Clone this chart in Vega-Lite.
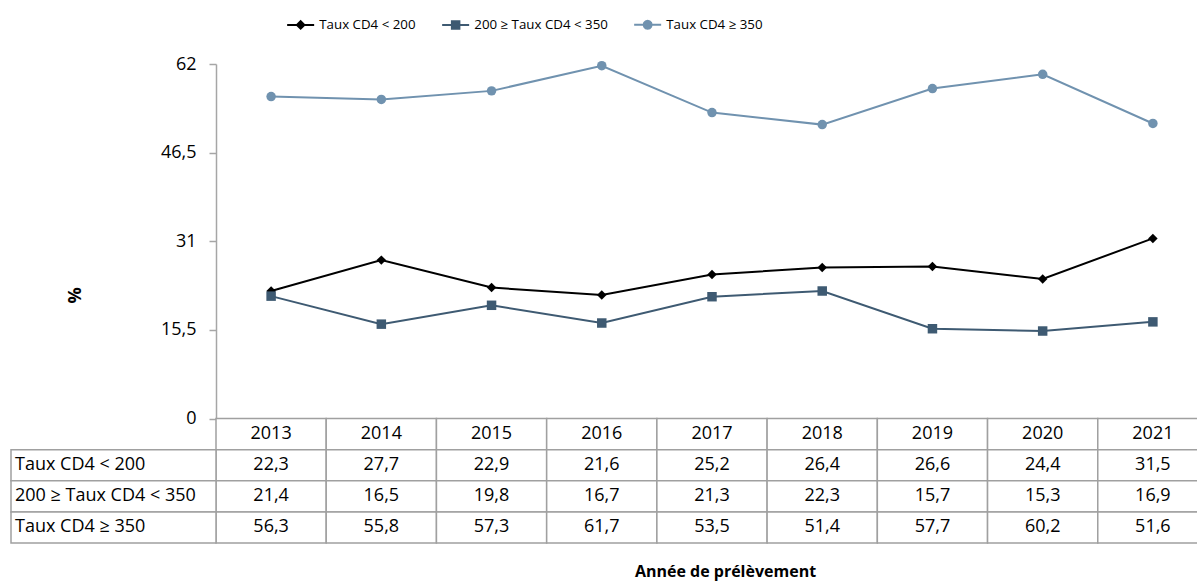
{
  "$schema": "https://vega.github.io/schema/vega-lite/v6.json",
  "autosize": {"type": "none"},
  "width": 981,
  "height": 479,
  "padding": {"left": 216, "top": 64, "right": 0, "bottom": 39},
  "background": "white",
  "config": {
    "font": "Open Sans",
    "locale": {"number": {"decimal": ",", "thousands": " ", "grouping": [3], "currency": ["", " €"]}},
    "view": {"stroke": null},
    "axis": {"labelColor": "#000000", "titleColor": "#000000"},
    "legend": {"labelColor": "#000000"}
  },
  "data": {
    "values": [
      {"year": "2013", "series": "Taux CD4 < 200", "value": 22.3},
      {"year": "2013", "series": "200 ≥ Taux CD4 < 350", "value": 21.4},
      {"year": "2013", "series": "Taux CD4 ≥ 350", "value": 56.3},
      {"year": "2014", "series": "Taux CD4 < 200", "value": 27.7},
      {"year": "2014", "series": "200 ≥ Taux CD4 < 350", "value": 16.5},
      {"year": "2014", "series": "Taux CD4 ≥ 350", "value": 55.8},
      {"year": "2015", "series": "Taux CD4 < 200", "value": 22.9},
      {"year": "2015", "series": "200 ≥ Taux CD4 < 350", "value": 19.8},
      {"year": "2015", "series": "Taux CD4 ≥ 350", "value": 57.3},
      {"year": "2016", "series": "Taux CD4 < 200", "value": 21.6},
      {"year": "2016", "series": "200 ≥ Taux CD4 < 350", "value": 16.7},
      {"year": "2016", "series": "Taux CD4 ≥ 350", "value": 61.7},
      {"year": "2017", "series": "Taux CD4 < 200", "value": 25.2},
      {"year": "2017", "series": "200 ≥ Taux CD4 < 350", "value": 21.3},
      {"year": "2017", "series": "Taux CD4 ≥ 350", "value": 53.5},
      {"year": "2018", "series": "Taux CD4 < 200", "value": 26.4},
      {"year": "2018", "series": "200 ≥ Taux CD4 < 350", "value": 22.3},
      {"year": "2018", "series": "Taux CD4 ≥ 350", "value": 51.4},
      {"year": "2019", "series": "Taux CD4 < 200", "value": 26.6},
      {"year": "2019", "series": "200 ≥ Taux CD4 < 350", "value": 15.7},
      {"year": "2019", "series": "Taux CD4 ≥ 350", "value": 57.7},
      {"year": "2020", "series": "Taux CD4 < 200", "value": 24.4},
      {"year": "2020", "series": "200 ≥ Taux CD4 < 350", "value": 15.3},
      {"year": "2020", "series": "Taux CD4 ≥ 350", "value": 60.2},
      {"year": "2021", "series": "Taux CD4 < 200", "value": 31.5},
      {"year": "2021", "series": "200 ≥ Taux CD4 < 350", "value": 16.9},
      {"year": "2021", "series": "Taux CD4 ≥ 350", "value": 51.6}
    ]
  },
  "layer": [
    {
      "encoding": {
        "x": {"field": "year", "type": "ordinal", "scale": {"type": "band", "range": [0, 992], "paddingInner": 0, "paddingOuter": 0}, "axis": null},
        "y": {
          "field": "value", "type": "quantitative",
          "scale": {"domain": [0, 62], "range": [354.5, 0], "nice": false, "zero": false},
          "axis": {
            "values": [0, 15.5, 31, 46.5, 62], "format": ".3~g", "grid": false,
            "domainColor": "#A6A6A6", "domainWidth": 1.5, "tickColor": "#A6A6A6", "tickWidth": 1.5, "tickSize": 7,
            "labelFontSize": 18, "labelPadding": 13,
            "title": "%", "titleFontSize": 18, "titleFontWeight": "bold", "titleAngle": -90,
            "titleBaseline": "alphabetic", "titleAlign": "center", "titleX": -136, "titleY": 231
          }
        },
        "color": {
          "field": "series", "type": "nominal",
          "scale": {"domain": ["Taux CD4 < 200", "200 ≥ Taux CD4 < 350", "Taux CD4 ≥ 350"], "range": ["#000000", "#3E5A72", "#7092AF"]},
          "legend": null
        }
      },
      "layer": [
        {"mark": {"type": "line", "strokeWidth": 2}},
        {
          "mark": {"type": "point", "filled": true, "size": 90, "opacity": 1},
          "encoding": {
            "shape": {
              "field": "series", "type": "nominal",
              "scale": {"domain": ["Taux CD4 < 200", "200 ≥ Taux CD4 < 350", "Taux CD4 ≥ 350"], "range": ["diamond", "square", "circle"]},
              "legend": null
            }
          }
        }
      ]
    },
    {
      "transform": [{"filter": "false"}],
      "mark": {"type": "point", "filled": true, "opacity": 1},
      "encoding": {
        "fill": {
          "field": "series", "type": "nominal",
          "scale": {"domain": ["Taux CD4 < 200", "200 ≥ Taux CD4 < 350", "Taux CD4 ≥ 350"], "range": ["#000000", "#3E5A72", "#7092AF"]},
          "legend": {
            "title": null, "orient": "none", "direction": "horizontal", "legendX": 78, "legendY": -46,
            "labelFontSize": 13.3, "labelOffset": 12, "columnPadding": 22, "symbolSize": 100, "symbolStrokeWidth": 2, "symbolOpacity": 1
          }
        },
        "stroke": {
          "field": "series", "type": "nominal",
          "scale": {"domain": ["Taux CD4 < 200", "200 ≥ Taux CD4 < 350", "Taux CD4 ≥ 350"], "range": ["#000000", "#3E5A72", "#7092AF"]},
          "legend": {
            "title": null, "orient": "none", "direction": "horizontal", "legendX": 78, "legendY": -46,
            "labelFontSize": 13.3, "labelOffset": 12, "columnPadding": 22, "symbolSize": 100, "symbolStrokeWidth": 2, "symbolOpacity": 1
          }
        },
        "shape": {
          "field": "series", "type": "nominal",
          "scale": {
            "domain": ["Taux CD4 < 200", "200 ≥ Taux CD4 < 350", "Taux CD4 ≥ 350"],
            "range": [
              "M-2.7,0H2.7M0,-0.75L0.75,0L0,0.75L-0.75,0Z",
              "M-2.7,0H2.7M-0.75,-0.75H0.75V0.75H-0.75Z",
              "M-2.7,0H2.7M0.8,0L0.693,0.4L0.4,0.693L0,0.8L-0.4,0.693L-0.693,0.4L-0.8,0L-0.693,-0.4L-0.4,-0.693L0,-0.8L0.4,-0.693L0.693,-0.4Z"
            ]
          },
          "legend": {
            "title": null, "orient": "none", "direction": "horizontal", "legendX": 78, "legendY": -46,
            "labelFontSize": 13.3, "labelOffset": 12, "columnPadding": 22, "symbolSize": 100, "symbolStrokeWidth": 2, "symbolOpacity": 1
          }
        }
      }
    },
    {
      "encoding": {
        "x": {
          "field": "year", "type": "ordinal",
          "scale": {"type": "band", "range": [0, 992], "paddingInner": 0, "paddingOuter": 0},
          "axis": {"title": "Année de prélèvement", "labels": false, "ticks": false, "domain": false, "titleFontSize": 16, "titleFontWeight": "bold", "titlePadding": 20, "titleX": 509}
        }
      },
      "layer": [
        {
          "transform": [{"filter": "datum.series === 'Taux CD4 < 200'"}],
          "mark": {"type": "rect", "fill": "white", "stroke": "#A0A0A0", "strokeWidth": 1.5},
          "encoding": {"y": {"datum": "Année", "type": "nominal", "scale": {"type": "band", "domain": ["Année", "Taux CD4 < 200", "200 ≥ Taux CD4 < 350", "Taux CD4 ≥ 350"], "range": [354.5, 479], "paddingInner": 0, "paddingOuter": 0}, "axis": null}}
        },
        {
          "transform": [{"filter": "datum.series === 'Taux CD4 < 200'"}],
          "mark": {"type": "text", "fontSize": 18, "color": "#000000"},
          "encoding": {
            "y": {"datum": "Année", "type": "nominal", "scale": {"type": "band", "domain": ["Année", "Taux CD4 < 200", "200 ≥ Taux CD4 < 350", "Taux CD4 ≥ 350"], "range": [354.5, 479], "paddingInner": 0, "paddingOuter": 0}, "axis": null},
            "text": {"field": "year"}
          }
        },
        {
          "mark": {"type": "rect", "fill": "white", "stroke": "#A0A0A0", "strokeWidth": 1.5},
          "encoding": {"y": {"field": "series", "type": "nominal", "scale": {"type": "band", "domain": ["Année", "Taux CD4 < 200", "200 ≥ Taux CD4 < 350", "Taux CD4 ≥ 350"], "range": [354.5, 479], "paddingInner": 0, "paddingOuter": 0}, "axis": null}}
        },
        {
          "mark": {"type": "text", "fontSize": 18, "color": "#000000"},
          "encoding": {
            "y": {"field": "series", "type": "nominal", "scale": {"type": "band", "domain": ["Année", "Taux CD4 < 200", "200 ≥ Taux CD4 < 350", "Taux CD4 ≥ 350"], "range": [354.5, 479], "paddingInner": 0, "paddingOuter": 0}, "axis": null},
            "text": {"field": "value", "type": "quantitative", "format": ".1f"}
          }
        }
      ]
    },
    {
      "transform": [{"filter": "datum.year === '2013'"}],
      "encoding": {
        "y": {"field": "series", "type": "nominal", "scale": {"type": "band", "domain": ["Année", "Taux CD4 < 200", "200 ≥ Taux CD4 < 350", "Taux CD4 ≥ 350"], "range": [354.5, 479], "paddingInner": 0, "paddingOuter": 0}, "axis": null}
      },
      "layer": [
        {
          "mark": {"type": "rect", "fill": "white", "stroke": "#A0A0A0", "strokeWidth": 1.5},
          "encoding": {"x": {"datum": "lab", "type": "nominal", "scale": {"type": "band", "domain": ["lab"], "range": [-205, 0], "paddingInner": 0, "paddingOuter": 0}, "axis": null}}
        },
        {
          "mark": {"type": "text", "fontSize": 18, "align": "left", "dx": 4, "color": "#000000"},
          "encoding": {
            "x": {"datum": "lab", "type": "nominal", "bandPosition": 0, "scale": {"type": "band", "domain": ["lab"], "range": [-205, 0], "paddingInner": 0, "paddingOuter": 0}, "axis": null},
            "text": {
              "condition": {"test": "datum.series === '200 ≥ Taux CD4 < 350'", "value": "\u00a0200 ≥ Taux CD4 < 350"},
              "field": "series"
            }
          }
        }
      ]
    }
  ],
  "resolve": {
    "scale": {"x": "independent", "y": "independent", "shape": "independent", "fill": "independent", "stroke": "independent", "color": "independent"},
    "legend": {"shape": "independent", "fill": "independent", "stroke": "independent", "color": "independent"}
  }
}
